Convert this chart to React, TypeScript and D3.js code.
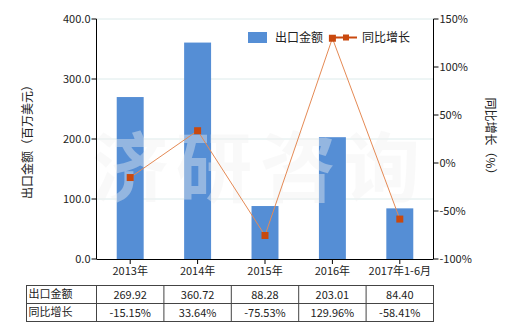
import React from "react";
import * as d3 from "d3";

const categories = ["2013年", "2014年", "2015年", "2016年", "2017年1-6月"];
const exportValues = [269.92, 360.72, 88.28, 203.01, 84.4];
const growthValues = [-15.15, 33.64, -75.53, 129.96, -58.41];
const exportLabels = ["269.92", "360.72", "88.28", "203.01", "84.40"];
const growthLabels = ["-15.15%", "33.64%", "-75.53%", "129.96%", "-58.41%"];
const leftTicks = [0, 100, 200, 300, 400];
const rightTicks = [-100, -50, 0, 50, 100, 150];
const seriesNames = ["出口金额", "同比增长"];
const watermark = ["济", "研", "咨", "询"];

const W = 520, H = 330;
const L = 96.5, R = 433.5, T = 19, B = 259;
const FONT = "'Microsoft YaHei','Noto Sans CJK SC','DejaVu Sans',sans-serif";
const BAR = "#558ED5";
const LINE = "#E58A55";
const MARK = "#C9490E";

export default function App() {
  const x = d3.scaleBand().domain(categories).range([L, R]);
  const yL = d3.scaleLinear().domain([0, 400]).range([B, T]);
  const yR = d3.scaleLinear().domain([-100, 150]).range([B, T]);
  const bw = x.bandwidth() * 0.4;
  const cx = (c: string) => (x(c) as number) + x.bandwidth() / 2;
  const line = d3
    .line<number>()
    .x((_, i) => cx(categories[i]))
    .y((d) => yR(d));

  const tableTop = 285.5, rowH = 18, tableLeft = 26.5;
  return (
    <svg width={W} height={H} style={{ position: "absolute", left: 0, top: 0 }} fontFamily={FONT}>
      <rect width={W} height={H} fill="#fff" />
      {leftTicks.slice(1).map((t) => (
        <line key={t} x1={L} x2={R} y1={yL(t)} y2={yL(t)} stroke="#DCEBEB" strokeWidth={1} />
      ))}
      {categories.map((c, i) => (
        <rect key={c} x={cx(c) - bw / 2} y={yL(exportValues[i])} width={bw} height={B - yL(exportValues[i])} fill={BAR} />
      ))}
      {/* watermark */}
      <g fill="#f2f2f2" opacity={0.4} fontSize={76} fontFamily="'Noto Sans CJK SC',sans-serif" fontWeight="bold">
        {watermark.map((ch, i) => (
          <text key={ch} x={92 + i * 84} y={196}>{ch}</text>
        ))}
      </g>
      <path d={line(growthValues) || ""} fill="none" stroke={LINE} strokeWidth={1} />
      {growthValues.map((v, i) => (
        <rect key={i} x={cx(categories[i]) - 3.5} y={yR(v) - 3.5} width={7} height={7} fill={MARK} />
      ))}
      {/* axes */}
      <line x1={L} x2={L} y1={T} y2={B} stroke="#000" />
      <line x1={R} x2={R} y1={T} y2={B} stroke="#000" />
      <line x1={L} x2={R} y1={B + 0.5} y2={B + 0.5} stroke="#000" />
      {leftTicks.map((t) => (
        <g key={t}>
          <line x1={L - 5} x2={L} y1={yL(t)} y2={yL(t)} stroke="#000" />
          <text x={L - 6} y={yL(t)} dy="0.35em" textAnchor="end" fontSize={11} fill="#222">{t.toFixed(1)}</text>
        </g>
      ))}
      {rightTicks.map((t) => (
        <g key={t}>
          <line x1={R} x2={R + 5} y1={yR(t)} y2={yR(t)} stroke="#000" />
          <text x={R + 6} y={yR(t)} dy="0.35em" textAnchor="start" fontSize={11} fill="#222">{t}%</text>
        </g>
      ))}
      {categories.map((c) => (
        <g key={c}>
          <line x1={cx(c)} x2={cx(c)} y1={B} y2={B + 5} stroke="#000" />
          <text x={cx(c)} y={B + 16} textAnchor="middle" fontSize={11} fill="#222">{c}</text>
        </g>
      ))}
      <text transform={`translate(32 ${(T + B) / 2}) rotate(-90)`} textAnchor="middle" fontSize={12} fill="#222">出口金额（百万美元）</text>
      <text transform={`translate(486 ${(T + B) / 2}) rotate(90)`} textAnchor="middle" fontSize={12} fill="#222">同比增长（%）</text>
      {/* legend */}
      <rect x={248} y={32} width={19} height={11} fill={BAR} />
      <text x={275} y={37.5} dy="0.35em" fontSize={12} fill="#222">{seriesNames[0]}</text>
      <line x1={332} x2={357} y1={37.5} y2={37.5} stroke={MARK} strokeWidth={2} />
      <rect x={343} y={34.5} width={6} height={6} fill={MARK} />
      <text x={362} y={37.5} dy="0.35em" fontSize={12} fill="#222">{seriesNames[1]}</text>
      {/* table */}
      <g stroke="#444" fill="none" strokeWidth={1}>
        <rect x={tableLeft} y={tableTop} width={R - tableLeft} height={rowH * 2} />
        <line x1={tableLeft} x2={R} y1={tableTop + rowH} y2={tableTop + rowH} />
        {categories.map((c) => (
          <line key={c} x1={x(c) as number} x2={x(c) as number} y1={tableTop} y2={tableTop + rowH * 2} />
        ))}
      </g>
      <text x={tableLeft + 2} y={tableTop + rowH / 2} dy="0.35em" fontSize={11} fill="#222">{seriesNames[0]}</text>
      <text x={tableLeft + 2} y={tableTop + rowH * 1.5} dy="0.35em" fontSize={11} fill="#222">{seriesNames[1]}</text>
      {categories.map((c, i) => (
        <g key={c} fontSize={11} fill="#222" textAnchor="middle">
          <text x={cx(c)} y={tableTop + rowH / 2 + 1} dy="0.35em">{exportLabels[i]}</text>
          <text x={cx(c)} y={tableTop + rowH * 1.5 + 1} dy="0.35em">{growthLabels[i]}</text>
        </g>
      ))}
    </svg>
  );
}
